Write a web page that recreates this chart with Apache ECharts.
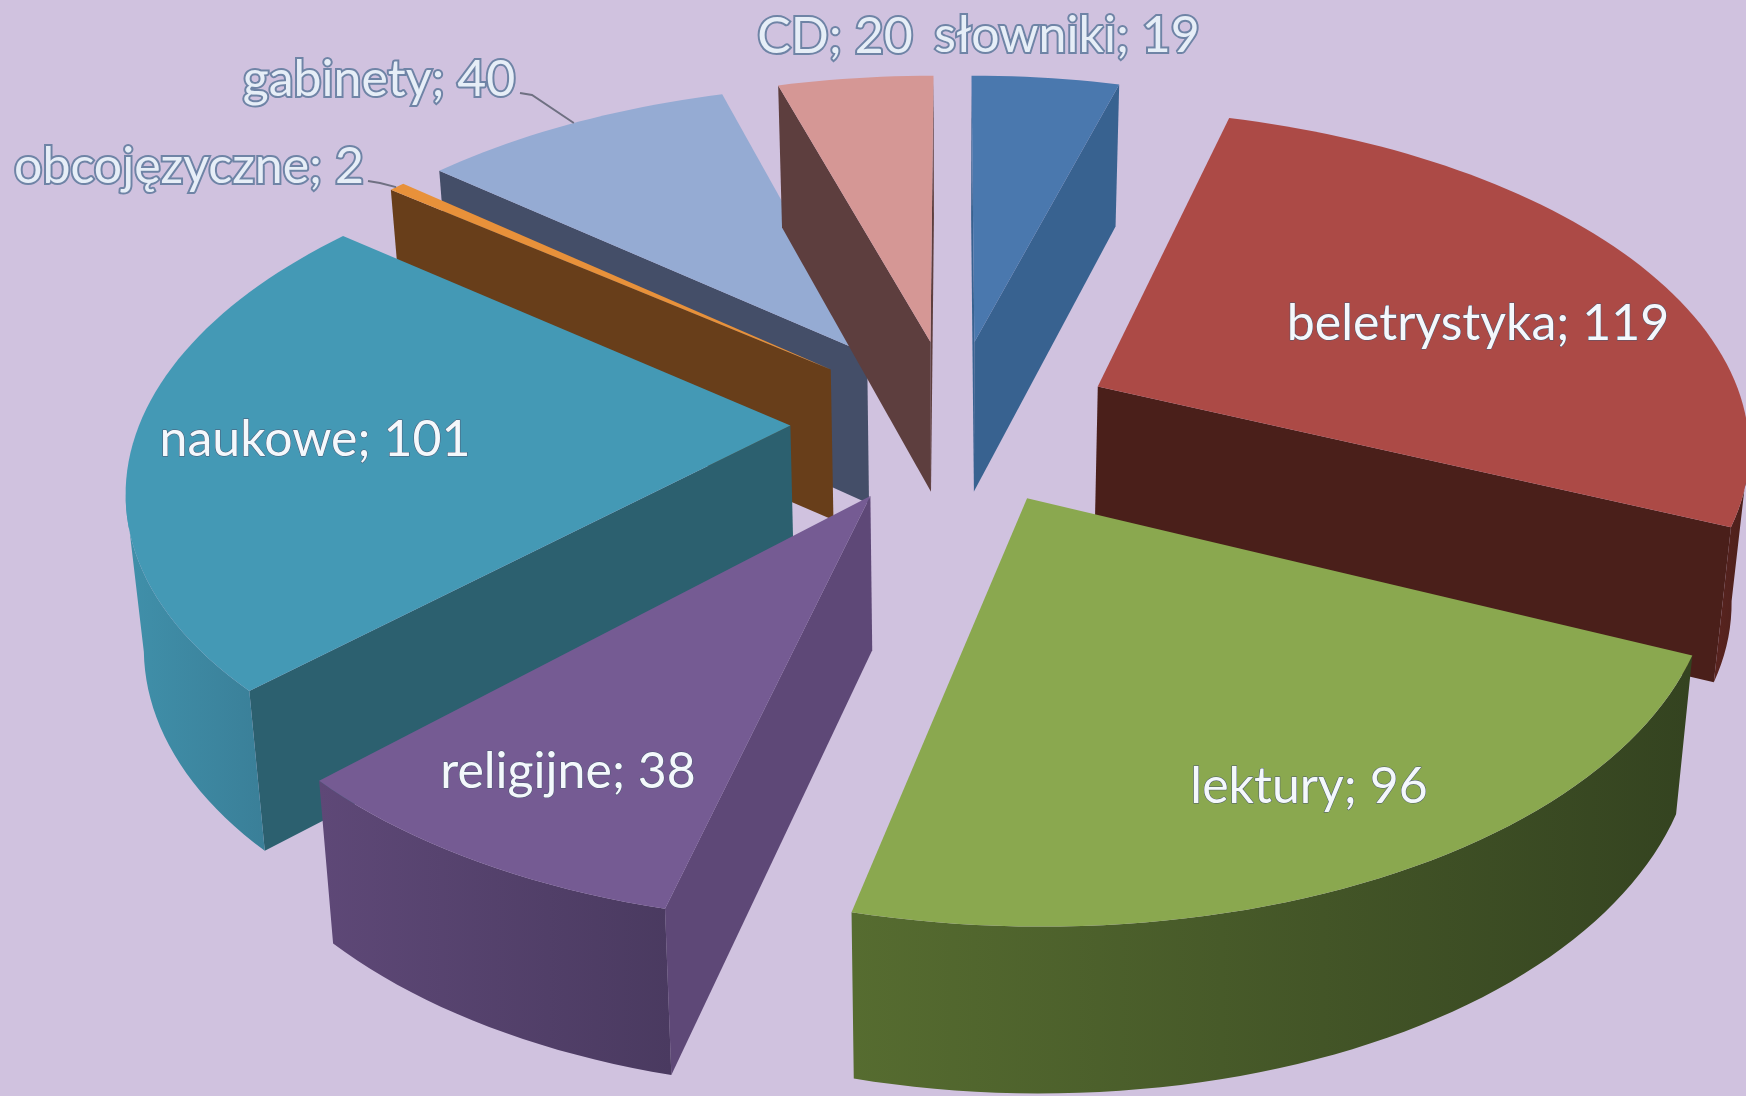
<!DOCTYPE html>
<html><head><meta charset="utf-8">
<style>html,body{margin:0;padding:0;background:#d0c2df}#c{width:1746px;height:1096px;filter:blur(0.7px)}</style>
<script src="https://cdn.jsdelivr.net/npm/echarts@6/dist/echarts.min.js"></script>
</head><body><div id="c"></div>
<script>
const categories = ['słowniki','beletrystyka','lektury','religijne','naukowe','obcojęzyczne','gabinety','CD'];
const values = [19,119,96,38,101,2,40,20];

const topColors  = ['#4a78ae','#ac4a46','#8aa84f','#755b93','#4499b5','#e8913a','#95abd3','#d59795'];
const cutColors  = ['#386290','#4a1f1a','#3c4c20','#5e4877','#2c606f','#683e1a','#444e68','#5d3e3e'];
const wallStops  = [
  ['#386290','#386290'],['#5a2420','#4a1f1a'],['#566c30','#344320'],['#5e4877','#4a3a60'],
  ['#4090aa','#3a7f98'],['#683e1a','#683e1a'],['#444e68','#444e68'],['#5d3e3e','#5d3e3e']
];
const paintOrder = [6,7,0,5,1,4,3,2];
const labelSpots = [[1067,36],[1478,324],[1309,787],[568,772],[315,440],[189,167],[379,80],[835,37]];
const outsideLabel = [true,false,false,false,false,true,true,true];
const leaderFrom = {5:[368,181],6:[520,93]};
const leaderAngle = {5:309.4,6:327};

const view = {cx:953,cy:421,A:650,B:332,u:0.16,H:152,explode:0.25,baseScale:0.978};
const total = values.reduce((a,b)=>a+b,0);
const rad = d=>d*Math.PI/180;

function project(X,Y,down){
  const s = 1/(1-view.u*Y);
  const k = down ? view.baseScale : 1;
  return [view.cx+view.A*X*s*k, view.cy+view.B*Y*s+(down?view.H*(0.6+0.4*s):0)];
}
function plane(a,r,off){ return [off[0]+r*Math.sin(rad(a)), off[1]-r*Math.cos(rad(a))]; }

const starts=[]; let acc=0;
values.forEach(v=>{starts.push(acc); acc+=v/total*360;});

function renderItem(params,api){
  const i = params.dataIndex;
  const v = api.value(1);
  const a0 = starts[i], a1 = a0+v/total*360, mid=(a0+a1)/2;
  const off = [view.explode*Math.sin(rad(mid)), -view.explode*Math.cos(rad(mid))];
  const apex = off;
  const n = Math.max(2,Math.ceil((a1-a0)/1.5));
  const arc=[]; for(let k=0;k<=n;k++){ arc.push(a0+(a1-a0)*k/n); }
  const pt=(a,down)=>{const p=plane(a,1,off);return project(p[0],p[1],down);};
  const children=[];
  const z = paintOrder.indexOf(i)*10;
  const poly=(points,fill,dz)=>({type:'polygon',shape:{points},style:{fill,stroke:null},z2:z+dz,silent:true});
  const aTop=project(apex[0],apex[1],false), aBot=project(apex[0],apex[1],true);
  [a0,a1].forEach((a,idx)=>{
    const t=pt(a,false), b=pt(a,true);
    const q=[aTop,t,b,aBot];
    let area=0; for(let k=0;k<4;k++){const p=q[k],r=q[(k+1)%4];area+=p[0]*r[1]-r[0]*p[1];}
    const facing = idx===0 ? area<0 : area>0;
    if(facing) children.push(poly(q,cutColors[i],1));
  });
  const up=[],dn=[];
  for(let k=0;k<n;k++){
    const p=pt(arc[k],false), r=pt(arc[k+1],false);
    if(r[0]<p[0]){
      if(!up.length){up.push(p);dn.push(pt(arc[k],true));}
      up.push(r);dn.push(pt(arc[k+1],true));
    }
  }
  if(up.length){
    children.push(poly(up.concat(dn.reverse()),{type:'linear',x:0,y:0,x2:1,y2:0,
      colorStops:[{offset:0,color:wallStops[i][0]},{offset:1,color:wallStops[i][1]}]},2));
  }
  const top=[aTop].concat(arc.map(a=>pt(a,false)));
  children.push(poly(top,topColors[i],3));
  if(leaderFrom[i]){
    const e=pt(leaderAngle[i],false);
    children.push({type:'polyline',shape:{points:[leaderFrom[i],[leaderFrom[i][0]+12,leaderFrom[i][1]+2],e]},
      style:{stroke:'#6f7082',lineWidth:2,fill:null},z2:200,silent:true});
  }
  const out=outsideLabel[i];
  children.push({type:'text',x:labelSpots[i][0],y:labelSpots[i][1],z2:300,silent:true,style:{
    text:categories[i]+'; '+v,font:'50px Lato, "Open Sans", sans-serif',
    align:'center',verticalAlign:'middle',fill:out?'#e6eef7':'#f4f8fc',
    stroke:out?'#6f84a6':'#4a5670',lineWidth:out?4:1,
    shadowColor:'rgba(40,50,80,0.55)',shadowBlur:2,shadowOffsetX:1,shadowOffsetY:1}});
  return {type:'group',children};
}

const chart=echarts.init(document.getElementById('c'),null,{renderer:'canvas'});
chart.setOption({
  animation:false,
  backgroundColor:'#d0c2df',
  series:[{type:'custom',coordinateSystem:'none',renderItem,silent:true,
    encode:{value:1},
    data:values.map((v,i)=>[i,v])}]
});
</script></body></html>
